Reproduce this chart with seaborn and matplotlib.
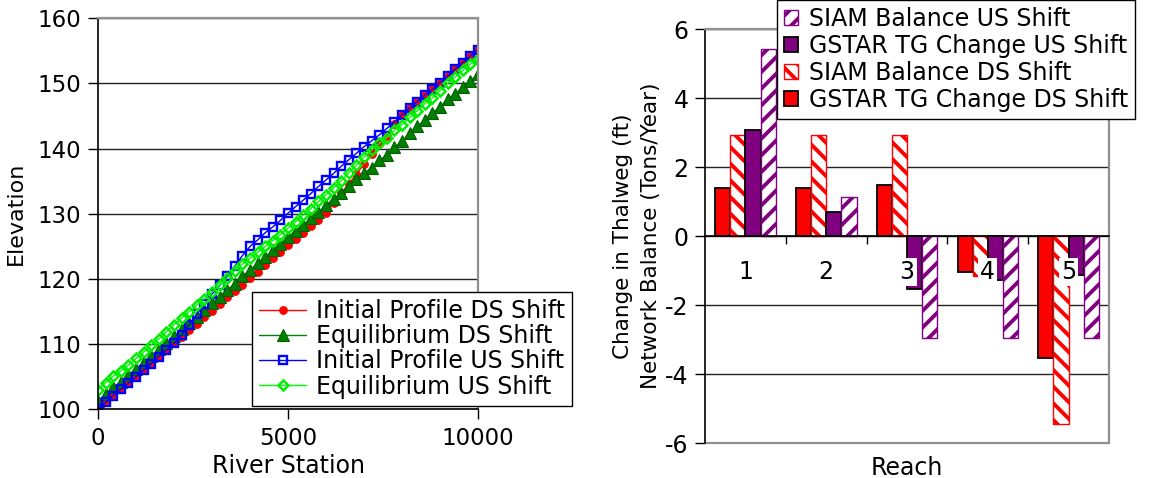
import numpy as np
import pandas as pd
import matplotlib
matplotlib.use("Agg")
import matplotlib.pyplot as plt
import seaborn as sns

# ── Left panel: longitudinal profiles ────────────────────────────────────────
stations = [0, 200, 400, 600, 800, 1000, 1200, 1400, 1600, 1800,
            2000, 2200, 2400, 2600, 2800, 3000, 3200, 3400, 3600, 3800,
            4000, 4200, 4400, 4600, 4800, 5000, 5200, 5400, 5600, 5800,
            6000, 6200, 6400, 6600, 6800, 7000, 7200, 7400, 7600, 7800,
            8000, 8200, 8400, 8600, 8800, 9000, 9200, 9400, 9600, 9800,
            10000]

initial_ds = [100.0, 101.1, 102.1, 103.1, 104.0, 105.0, 106.0, 107.0, 108.1, 109.1,
              110.1, 111.1, 112.1, 113.1, 114.1, 115.1, 116.2, 117.2, 118.2, 119.1,
              120.1, 121.1, 122.1, 123.2, 124.2, 125.2, 126.1, 127.1, 128.1, 129.1,
              130.1, 131.6, 133.2, 134.6, 136.1, 137.6, 139.2, 140.7, 141.9, 143.8,
              145.2, 146.2, 147.2, 148.2, 149.1, 150.1, 151.1, 152.2, 153.2, 154.2,
              155.2]
equil_ds = [101.3, 102.3, 103.4, 104.2, 105.3, 106.2, 107.2, 108.2, 109.2, 110.2,
            111.2, 112.3, 113.3, 114.2, 115.2, 116.3, 117.3, 118.3, 119.3, 120.4,
            121.4, 122.4, 123.4, 124.4, 125.4, 126.4, 127.4, 128.3, 129.3, 130.3,
            131.3, 132.3, 133.2, 134.2, 135.4, 136.2, 137.1, 138.2, 139.0, 140.2,
            141.1, 142.4, 143.4, 144.4, 145.5, 146.4, 147.6, 148.4, 149.4, 150.4,
            151.4]
initial_us = [100.0, 101.1, 102.1, 103.1, 104.0, 105.0, 106.0, 107.0, 108.1, 109.1,
              110.1, 111.4, 113.0, 114.6, 116.1, 117.7, 119.0, 120.5, 122.0, 123.6,
              125.0, 126.0, 127.1, 128.0, 129.0, 130.1, 131.1, 132.1, 133.1, 134.2,
              135.2, 136.2, 137.3, 138.3, 139.3, 140.3, 141.2, 142.1, 143.1, 144.1,
              145.2, 146.2, 147.2, 148.2, 149.1, 150.1, 151.1, 152.2, 153.2, 154.2,
              155.2]
equil_us = [103.0, 104.1, 105.1, 105.9, 106.8, 107.8, 108.8, 109.9, 110.8, 111.9,
            113.0, 114.0, 115.0, 116.0, 117.0, 118.0, 119.1, 120.2, 121.3, 122.3,
            123.2, 124.1, 125.0, 125.9, 126.8, 127.8, 128.8, 129.8, 130.8, 131.9,
            132.9, 134.0, 135.1, 136.3, 137.5, 138.7, 139.8, 140.8, 141.7, 142.8,
            143.7, 144.8, 145.8, 146.9, 147.8, 148.9, 150.0, 151.0, 152.0, 153.0,
            153.8]

profile_names = ["Initial Profile DS Shift", "Equilibrium DS Shift",
                 "Initial Profile US Shift", "Equilibrium US Shift"]

# ── Right panel: reach balances ──────────────────────────────────────────────
reaches = ["1", "2", "3", "4", "5"]
gstar_ds = [1.40, 1.40, 1.47, -1.03, -3.53]
siam_ds = [2.93, 2.93, 2.93, -1.14, -5.43]
gstar_us = [3.07, 0.69, -1.52, -1.28, -1.13]
siam_us = [5.42, 1.12, -2.94, -2.94, -2.94]
bar_names = ["GSTAR TG Change DS Shift", "SIAM Balance DS Shift",
             "GSTAR TG Change US Shift", "SIAM Balance US Shift"]

sns.set_style("ticks")
plt.rcParams["font.family"] = ["DejaVu Sans"]
plt.rcParams["hatch.linewidth"] = 2.8
for key in ["text.color", "axes.labelcolor", "xtick.color", "ytick.color"]:
    plt.rcParams[key] = "#000000"

fig = plt.figure(figsize=(11.7, 4.78), dpi=100)
ax1 = fig.add_axes([0.0838, 0.1437, 0.3248, 0.818])
ax2 = fig.add_axes([0.6026, 0.0726, 0.3453, 0.8667])

# profiles
styles = [
    dict(color="#ff0000", marker="o", markersize=5.5, markerfacecolor="#ff0000",
         markeredgecolor="#ff0000", markeredgewidth=0.8),
    dict(color="#008000", marker="^", markersize=8, markerfacecolor="#008000",
         markeredgecolor="#006000", markeredgewidth=0.8),
    dict(color="#0000ff", marker="s", markersize=6, markerfacecolor="none",
         markeredgecolor="#0000ff", markeredgewidth=1.7),
    dict(color="#00ff00", marker="D", markersize=5.5, markerfacecolor="none",
         markeredgecolor="#00ee00", markeredgewidth=1.8),
]
for name, vals, st in zip(profile_names, [initial_ds, equil_ds, initial_us, equil_us], styles):
    sns.lineplot(x=stations, y=vals, ax=ax1, label=name, linewidth=1.0, **st)

ax1.set_xlim(0, 10000)
ax1.set_ylim(100, 160)
ax1.set_xticks([0, 5000, 10000])
ax1.set_yticks([100, 110, 120, 130, 140, 150, 160])
ax1.grid(axis="y", color="#222222", linewidth=1.0)
ax1.set_axisbelow(True)
ax1.tick_params(axis="both", direction="out", length=7, width=1, labelsize=16.5)
ax1.tick_params(axis="x", pad=6)
ax1.tick_params(axis="y", pad=5)
for side in ["top", "right"]:
    ax1.spines[side].set_color("#909090")
    ax1.spines[side].set_linewidth(1.6)
for side in ["left", "bottom"]:
    ax1.spines[side].set_color("#000000")
    ax1.spines[side].set_linewidth(1.2)
ax1.set_xlabel("River Station", fontsize=17)
ax1.set_ylabel("Elevation", fontsize=16)
ax1.xaxis.set_label_coords(0.5, -0.115)
ax1.yaxis.set_label_coords(-0.19, 0.5)
leg1 = ax1.legend(loc="upper left", bbox_to_anchor=(0.405, 0.30), borderaxespad=0,
                  fontsize=17, frameon=True, fancybox=False, edgecolor="#000000",
                  framealpha=1, handlelength=2.0, handletextpad=0.4,
                  labelspacing=0.05, borderpad=0.3)
leg1.get_frame().set_linewidth(1.0)
leg1.set_zorder(5)

# bars
bars = pd.DataFrame({
    "Reach": reaches * 4,
    "Series": [n for n in bar_names for _ in reaches],
    "Value": gstar_ds + siam_ds + gstar_us + siam_us,
})
sns.barplot(data=bars, x="Reach", y="Value", hue="Series", hue_order=bar_names,
            width=0.75, gap=0, saturation=1, ax=ax2, legend=False,
            palette=["#ff0000", "#ffffff", "#800080", "#ffffff"])

bar_styles = [
    dict(facecolor="#ff0000", edgecolor="#000000", hatch=None, lw=1.3),
    dict(facecolor="#ffffff", edgecolor="#ff0000", hatch="\\\\", lw=1.0),
    dict(facecolor="#800080", edgecolor="#000000", hatch=None, lw=1.3),
    dict(facecolor="#ffffff", edgecolor="#800080", hatch="//", lw=1.0),
]
for cont, st in zip(ax2.containers, bar_styles):
    for p in cont:
        p.set_facecolor(st["facecolor"])
        p.set_edgecolor(st["edgecolor"])
        p.set_linewidth(st["lw"])
        if st["hatch"]:
            p.set_hatch(st["hatch"])

ax2.set_ylim(-6, 6)
ax2.set_xlim(-0.5, 4.5)
ax2.set_yticks([-6, -4, -2, 0, 2, 4, 6])
ax2.set_yticklabels(["-6", "-4", "-2", "0", "2", "4", "6"])
ax2.grid(axis="y", color="#222222", linewidth=1.0)
ax2.set_axisbelow(True)
ax2.xaxis.set_zorder(3)
ax2.axhline(-6, color="#909090", linewidth=1.6, clip_on=False, zorder=0.6)
ax2.spines["bottom"].set_position(("data", 0))
ax2.spines["bottom"].set_color("#000000")
ax2.spines["bottom"].set_linewidth(1.2)
ax2.spines["left"].set_color("#000000")
ax2.spines["left"].set_linewidth(1.2)
for side in ["top", "right"]:
    ax2.spines[side].set_color("#909090")
    ax2.spines[side].set_linewidth(1.6)
ax2.set_xticks([0.5, 1.5, 2.5, 3.5], minor=True)
ax2.tick_params(axis="x", which="minor", direction="out", length=6, width=1)
ax2.tick_params(axis="x", which="major", length=0, pad=17, labelsize=17)
ax2.tick_params(axis="y", direction="out", length=7, width=1, labelsize=17, pad=5)
for lab in ax2.get_xticklabels():
    lab.set_bbox(dict(facecolor="white", edgecolor="none", pad=1.5))
ax2.set_xlabel("Reach", fontsize=17)
ax2.xaxis.set_label_coords(0.5, -0.03)
ax2.set_ylabel("Change in Thalweg (ft)\nNetwork Balance (Tons/Year)", fontsize=15.5,
               linespacing=1.45)
ax2.yaxis.set_label_coords(-0.11, 0.5)

handles = [ax2.containers[i].patches[0] for i in [3, 2, 1, 0]]
labels = [bar_names[i] for i in [3, 2, 1, 0]]
leg2 = ax2.legend(handles, labels, loc="upper left", bbox_to_anchor=(0.178, 1.07),
                  borderaxespad=0, fontsize=17, frameon=True, fancybox=False,
                  edgecolor="#000000", framealpha=1, handlelength=0.6,
                  handleheight=0.6, handletextpad=0.45, labelspacing=0.12,
                  borderpad=0.3)
leg2.get_frame().set_linewidth(1.0)
leg2.set_zorder(5)

fig.savefig("out.png", dpi=100)
